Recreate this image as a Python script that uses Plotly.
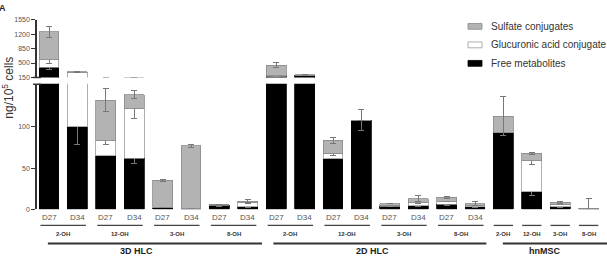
import plotly.graph_objects as go

W, H = 607, 262

# ---------------- data ----------------
cell_types = ["3D HLC", "2D HLC", "hnMSC"]
metabolites = ["2-OH", "12-OH", "3-OH", "8-OH"]
days = ["D27", "D34"]

# bar order: 3D HLC (metab x day), 2D HLC (metab x day), hnMSC (metab)
bar_cell = ["3D HLC"] * 8 + ["2D HLC"] * 8 + ["hnMSC"] * 4
bar_metab = ["2-OH", "2-OH", "12-OH", "12-OH", "3-OH", "3-OH", "8-OH", "8-OH"] * 2 + metabolites
bar_day = days * 8 + [""] * 4

free = [400, 100, 65, 62, 2, 1, 5, 3, 175, 200, 61, 108, 3.5, 4.5, 6, 3, 93, 21.5, 3, 0.5]
free_err = [50, 21, 0, 6, 0, 0, 1, 0.5, 0, 0, 0, 13, 0.5, 0.5, 1, 0.5, 0, 5, 0.5, 0]
gluc = [175, 160, 18, 60, 0.5, 0.5, 0.5, 5, 15, 5, 7, 0, 1.5, 3.5, 4, 2, 0, 37.5, 3, 0.5]
gluc_err = [80, 0, 4, 12, 0, 0, 0, 1.5, 0, 0, 3, 0, 0.5, 1, 1, 0.5, 0, 5, 0.5, 0]
sulf = [675, 25, 49, 17, 32.5, 75.5, 0, 2, 260, 15, 15.5, 0, 2, 5, 4.5, 2, 20, 9, 2.5, 0.5]
sulf_err = [130, 15, 14, 5, 1.5, 2, 0, 1.5, 60, 5, 3.5, 0, 0.5, 4, 1.5, 2, 24, 1, 1, 12]

upper_ticks = [150, 500, 850, 1200, 1550]
lower_ticks = [0, 50, 100]

series = [
    ("Free metabolites", free, free_err, "#000000", "#000000"),
    ("Glucuronic acid conjugate", gluc, gluc_err, "#ffffff", "#9a9a9a"),
    ("Sulfate conjugates", sulf, sulf_err, "#b3b3b3", "#8a8a8a"),
]

xs = list(range(len(free)))

def px(x):
    return x / W

def py(y):
    return 1 - y / H

# pixel mapping of category axis
X0, STEP = 49.0, 28.4
xr = [(37 - X0) / STEP, (W - X0) / STEP]

fig = go.Figure()
for name, vals, errs, col, lcol in series:
    for xa, ya in (("x", "y"), ("x2", "y2")):
        fig.add_trace(go.Bar(
            x=xs, y=vals, name=name, xaxis=xa, yaxis=ya, width=0.7,
            marker=dict(color=col, line=dict(color=lcol, width=0.8)),
            error_y=dict(type="data", array=errs, visible=True,
                         color="#777777", thickness=1, width=3),
            showlegend=False,
        ))

font_fam = "Liberation Sans, Arial, sans-serif"
axis_common = dict(showgrid=False, zeroline=False, showline=True, linecolor="#333333",
                   linewidth=1.5, ticks="outside", ticklen=4, tickwidth=1,
                   tickcolor="#333333", tickfont=dict(size=7, color="#555555", family=font_fam))

fig.update_layout(
    width=W, height=H, margin=dict(l=0, r=0, t=0, b=0),
    paper_bgcolor="white", plot_bgcolor="white",
    barmode="stack", bargap=0.3,
    font=dict(family=font_fam),
    xaxis=dict(domain=[px(37), 1], range=xr, showticklabels=False, showline=False,
               showgrid=False, zeroline=False, ticks="", anchor="y"),
    xaxis2=dict(domain=[px(37), 1], range=xr, showticklabels=False, showline=False,
                showgrid=False, zeroline=False, ticks="", anchor="y2", matches="x"),
    yaxis=dict(domain=[py(211), py(82)], range=[0, 152], tickvals=lower_ticks,
               anchor="x", **axis_common),
    yaxis2=dict(domain=[py(75.5), py(16)], range=[150, 1550], tickvals=upper_ticks,
                anchor="x2", **axis_common),
)

shapes = []
ann = []

def text(x, y, s, size, color, xref="paper", xanchor="center", angle=0):
    ann.append(dict(x=x, y=y, xref=xref, yref="paper", text=s, showarrow=False,
                    xanchor=xanchor, yanchor="middle", textangle=angle,
                    font=dict(size=size, color=color)))

# axis break serifs
for yy in (75.5, 82.5):
    shapes.append(dict(type="line", xref="paper", yref="paper", x0=px(33), x1=px(41),
                       y0=py(yy), y1=py(yy), line=dict(color="#333333", width=1.5)))

# day labels
for i, d in enumerate(bar_day):
    if d:
        text(i, py(219.5), d, 8, "#555555", xref="x")

# metabolite group lines and labels
groups = []
for i in range(len(bar_metab)):
    key = (bar_cell[i], bar_metab[i])
    if groups and groups[-1][0] == key:
        groups[-1][1].append(i)
    else:
        groups.append((key, [i]))
for (cell, met), idx in groups:
    c = sum(idx) / len(idx)
    half = 0.8 if len(idx) > 1 else 0.34
    shapes.append(dict(type="line", xref="x", yref="paper", x0=c - half, x1=c + half,
                       y0=py(227.5), y1=py(227.5), line=dict(color="#444444", width=1.3)))
    text(c, py(236.5), "<b>%s</b>" % met, 6, "#333333", xref="x")

# cell type group lines and labels
cell_line = {"3D HLC": (-0.04, 7.5), "2D HLC": (7.9, 15.4), "hnMSC": (15.98, 19.7)}
cell_label_x = {"3D HLC": 3.07, "2D HLC": 11.4, "hnMSC": 17.45}
for ct in cell_types:
    a, b = cell_line[ct]
    shapes.append(dict(type="line", xref="x", yref="paper", x0=a, x1=b,
                       y0=py(246), y1=py(246), line=dict(color="#333333", width=2)))
    text(cell_label_x[ct], py(254), "<b>%s</b>" % ct, 9, "#222222", xref="x")

# legend
leg = [("Sulfate conjugates", "#b3b3b3", "#8a8a8a", 23),
       ("Glucuronic acid conjugate", "#ffffff", "#9a9a9a", 42),
       ("Free metabolites", "#000000", "#000000", 61)]
for name, col, lcol, yy in leg:
    shapes.append(dict(type="rect", xref="paper", yref="paper", x0=px(468), x1=px(482),
                       y0=py(yy + 3), y1=py(yy - 3), fillcolor=col,
                       line=dict(color=lcol, width=0.8)))
    text(px(489), py(yy), name, 10, "#333333", xanchor="left")

# y title and panel letter
text(px(8), py(86), "ng/10<sup>5</sup> cells", 12, "#333333", angle=-90)
text(px(3), py(4), "<b>A</b>", 9, "#222222")

fig.update_layout(shapes=shapes, annotations=ann)
fig.write_html("out.html")
